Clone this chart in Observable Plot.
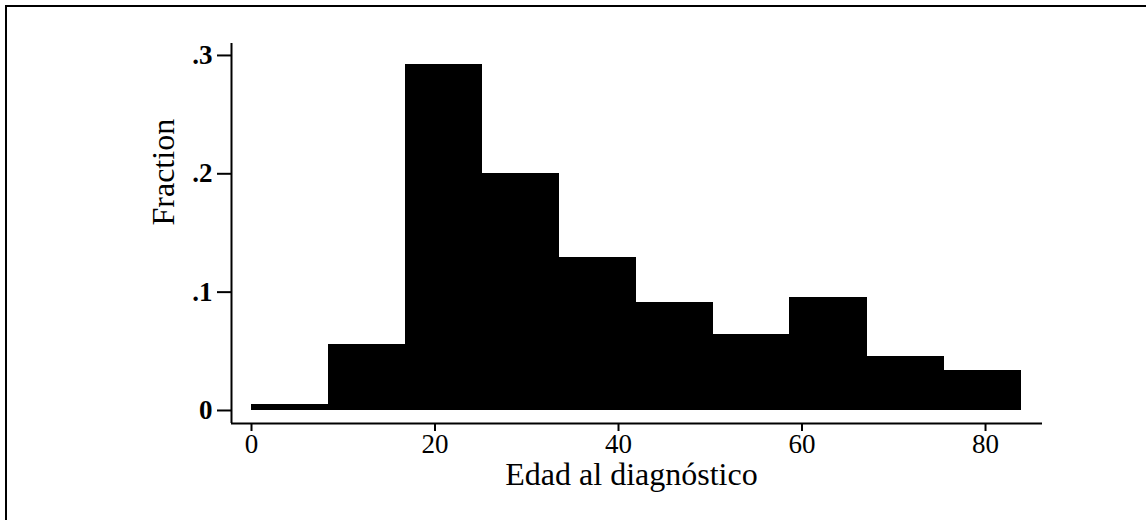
<!DOCTYPE html>
<html><head><meta charset="utf-8">
<script src="https://cdn.jsdelivr.net/npm/d3@7"></script>
<script src="https://cdn.jsdelivr.net/npm/@observablehq/plot@0.6"></script>
<style>
body{margin:0;background:#fff}
#wrap{position:relative;width:1146px;height:520px;overflow:hidden;background:#fff}
#wrap svg{display:block;position:absolute;left:0;top:0}
#frame{position:absolute;left:5px;top:5px;width:1300px;height:700px;border-left:2px solid #000;border-top:2px solid #000;pointer-events:none}
</style>
</head><body><div id="wrap"></div><script>
// Histogram data
const binStart = [0, 8.4, 16.8, 25.1, 33.5, 41.9, 50.3, 58.7, 67.1, 75.5];
const binEnd   = [8.4, 16.8, 25.1, 33.5, 41.9, 50.3, 58.7, 67.1, 75.5, 83.9];
const fraction = [0.0045, 0.055, 0.292, 0.1995, 0.1287, 0.0907, 0.0634, 0.0952, 0.0456, 0.033];
const xTicks = [0, 20, 40, 60, 80];
const xTickLabels = ["0", "20", "40", "60", "80"];
const yTicks = [0, 0.1, 0.2, 0.3];
const yTickLabels = ["0", ".1", ".2", ".3"];
const xTitle = "Edad al diagnóstico";
const yTitle = "Fraction";

const bins = binStart.map((s, i) => ({x1: s, x2: binEnd[i], y: fraction[i]}));
const xDomain = [-2.18, 86.21];
const yDomain = [-0.011, 0.3101];

const chart = Plot.plot({
  width: 1146,
  height: 520,
  marginLeft: 231,
  marginRight: 104,
  marginTop: 43,
  marginBottom: 97,
  style: {fontFamily: "'Liberation Serif', 'Times New Roman', serif", color: "#000", background: "transparent"},
  x: {domain: xDomain},
  y: {domain: yDomain},
  marks: [
    Plot.rectY(bins, {x1: "x1", x2: "x2", y: "y", fill: "#000", stroke: "#000", strokeWidth: 1, shapeRendering: "crispEdges"}),
    Plot.ruleX([xDomain[0]], {stroke: "#000", strokeWidth: 2}),
    Plot.ruleY([yDomain[0]], {stroke: "#000", strokeWidth: 2}),
    Plot.axisX({ticks: xTicks, tickFormat: d => xTickLabels[xTicks.indexOf(d)], tickSize: 8, tickPadding: 2, fontSize: 27, strokeWidth: 2, label: null}),
    Plot.axisY({ticks: yTicks, tickFormat: d => yTickLabels[yTicks.indexOf(d)], tickSize: 14, tickPadding: 5, fontSize: 27, fontWeight: "bold", strokeWidth: 2, label: null}),
    Plot.text([xTitle], {text: d => d, frameAnchor: "bottom", lineAnchor: "bottom", dx: -5.5, dy: 61, fontSize: 32, fill: "#000"}),
    Plot.text([yTitle], {text: d => d, frameAnchor: "left", lineAnchor: "bottom", rotate: -90, dx: -58, dy: -8, fontSize: 32, fill: "#000"})
  ]
});
const wrap = document.getElementById("wrap");
wrap.appendChild(chart);
const fr = document.createElement("div");
fr.id = "frame";
wrap.appendChild(fr);
</script></body></html>
